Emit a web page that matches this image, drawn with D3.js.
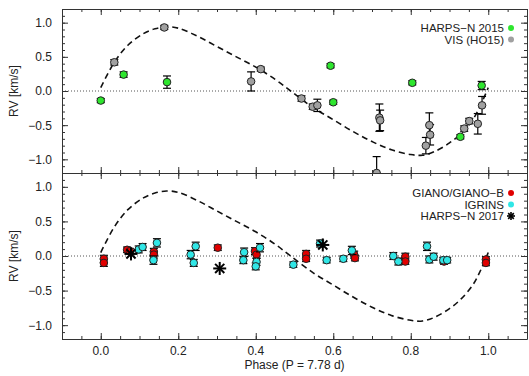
<!DOCTYPE html>
<html><head><meta charset="utf-8">
<script src="https://cdn.jsdelivr.net/npm/d3@7"></script>
<style>body{margin:0;background:#fff}svg{display:block}text{font-family:"Liberation Sans",Arial,sans-serif;fill:#222}</style>
</head><body><svg id="c" width="529" height="376"></svg>
<script>
// ---- data ----
const curve = [[0.00,0.05],[0.035,0.42],[0.07,0.67],[0.11,0.84],[0.14,0.91],[0.17,0.94],[0.20,0.92],[0.25,0.80],[0.30,0.65],[0.35,0.50],[0.40,0.35],[0.45,0.17],[0.49,0.00],[0.55,-0.25],[0.60,-0.42],[0.65,-0.59],[0.70,-0.74],[0.75,-0.86],[0.80,-0.93],[0.83,-0.94],[0.86,-0.89],[0.90,-0.76],[0.93,-0.62],[0.96,-0.42],[0.98,-0.21],[1.00,0.05]];
const harps2015 = [[0.000,-0.14,0.03],[0.059,0.24,0.04],[0.171,0.13,0.09],[0.593,0.37,0.03],[0.600,-0.165,0.03],[0.804,0.12,0.03],[0.928,-0.67,0.03],[0.983,0.08,0.06]];
const vis = [[0.035,0.42,0.04],[0.164,0.93,0.03],[0.388,0.14,0.14],[0.413,0.32,0.03],[0.518,-0.11,0.04],[0.547,-0.23,0.04],[0.559,-0.21,0.09],[0.712,-1.20,0.24],[0.719,-0.39,0.20],[0.721,-0.43,0.15],[0.839,-0.80,0.12],[0.848,-0.50,0.18],[0.850,-0.64,0.15],[0.938,-0.55,0.04],[0.951,-0.44,0.04],[0.973,-0.48,0.15],[0.984,-0.21,0.13]];
const giano = [[0.008,-0.04,0.05],[0.008,-0.10,0.05],[0.068,0.09,0.04],[0.075,0.07,0.04],[0.137,0.06,0.05],[0.137,0.02,0.05],[0.302,0.12,0.04],[0.398,0.07,0.05],[0.402,0.02,0.05],[0.530,0.03,0.05],[0.530,-0.04,0.04],[0.654,0.02,0.05],[0.656,-0.03,0.04],[0.786,-0.01,0.05],[0.786,-0.08,0.04],[0.886,-0.08,0.04],[0.994,-0.05,0.04],[0.994,-0.10,0.04]];
const igrins = [[0.098,0.095,0.05],[0.108,0.13,0.05],[0.145,0.19,0.06],[0.136,-0.06,0.06],[0.232,0.02,0.06],[0.245,0.14,0.06],[0.240,-0.10,0.05],[0.370,0.055,0.06],[0.368,-0.06,0.05],[0.411,0.12,0.06],[0.402,-0.085,0.05],[0.400,-0.15,0.05],[0.497,-0.125,0.04],[0.566,0.18,0.05],[0.583,-0.06,0.04],[0.626,-0.04,0.04],[0.648,0.08,0.06],[0.755,0.00,0.05],[0.768,-0.08,0.05],[0.842,0.14,0.06],[0.848,-0.05,0.05],[0.859,-0.01,0.05],[0.884,-0.06,0.04],[0.894,-0.06,0.04]];
const harps2017 = [[0.078,0.03],[0.307,-0.18],[0.573,0.16]];
const xTicks = [0.0,0.2,0.4,0.6,0.8,1.0];
const yTicks = [-1.0,-0.5,0.0,0.5,1.0];
const topLegend = [["HARPS\u2212N 2015","#2ee62e","circle"],["VIS (HO15)","#a0a0a0","circle"]];
const botLegend = [["GIANO/GIANO\u2212B","#e00000","circle"],["IGRINS","#30e6e6","circle"],["HARPS\u2212N 2017","#000","star"]];

// ---- layout ----
const svg = d3.select("#c");
const L=62, R=527, T=9, M=173, B=339;
const x = d3.scaleLinear().domain([-0.1,1.1]).range([L,R]);
const yTop = d3.scaleLinear().domain([-1.2,1.2]).range([M,T]);
const yBot = d3.scaleLinear().domain([-1.2,1.2]).range([B,M]);
const fmt = d => (d<0?"\u2212":"")+Math.abs(d).toFixed(1);

function panel(y, id){
  const g = svg.append("g");
  svg.append("clipPath").attr("id",id).append("rect").attr("x",L).attr("y",y.range()[1]).attr("width",R-L).attr("height",y.range()[0]-y.range()[1]);
  g.append("line").attr("x1",L).attr("x2",R).attr("y1",y(0)).attr("y2",y(0)).attr("stroke","#555").attr("stroke-width",1).attr("stroke-dasharray","1,2");
  g.append("path").datum(curve).attr("d",d3.line().x(d=>x(d[0])).y(d=>y(d[1])).curve(d3.curveCatmullRom)).attr("fill","none").attr("stroke","#111").attr("stroke-width",1.6).attr("stroke-dasharray","6,4");
  const yMinor = d3.range(-12,13).map(i=>i/10);
  const xMinor = d3.range(-2,23).map(i=>i*0.05);
  [[d3.axisLeft(y).tickValues(yTicks).tickFormat(fmt),L],[d3.axisRight(y).tickValues(yTicks).tickFormat(""),R]].forEach(([a,pos],i)=>{
    const gg = svg.append("g").attr("transform",`translate(${pos},0)`).call(a.tickSizeInner(-6).tickSizeOuter(0).tickPadding(i===0?10:0));
    gg.select(".domain").attr("stroke","#333");
    gg.selectAll(".tick line").attr("stroke","#333");
    gg.selectAll("text").attr("font-size",12).attr("fill","#222").attr("font-family","Liberation Sans, Arial");
    const mn = svg.append("g").attr("transform",`translate(${pos},0)`).call((i===0?d3.axisLeft(y):d3.axisRight(y)).tickValues(yMinor).tickFormat("").tickSizeInner(-3).tickSizeOuter(0));
    mn.select(".domain").remove(); mn.selectAll("line").attr("stroke","#333");
  });
  [[d3.axisBottom(x),y.range()[0]],[d3.axisTop(x),y.range()[1]]].forEach(([a,pos],i)=>{
    const gg = svg.append("g").attr("transform",`translate(0,${pos})`).call(a.tickValues(xTicks).tickFormat("").tickSizeInner(-6).tickSizeOuter(0));
    gg.select(".domain").attr("stroke","#333");
    gg.selectAll(".tick line").attr("stroke","#333");
    const mn = svg.append("g").attr("transform",`translate(0,${pos})`).call((i===0?d3.axisBottom(x):d3.axisTop(x)).tickValues(xMinor).tickFormat("").tickSizeInner(-3).tickSizeOuter(0));
    mn.select(".domain").remove(); mn.selectAll("line").attr("stroke","#333");
  });
  const mid = (y.range()[0]+y.range()[1])/2;
  svg.append("text").attr("transform",`translate(18,${mid}) rotate(-90)`).attr("text-anchor","middle").attr("font-size",12).text("RV [km/s]");
  return svg.append("g").attr("clip-path",`url(#${id})`);
}

function errs(g, y, data){
  const eg = g.append("g").attr("stroke","#000").attr("stroke-width",1.2);
  data.forEach(d=>{
    const y1=y(d[1]+d[2]), y2=y(d[1]-d[2]), cx=x(d[0]);
    eg.append("line").attr("x1",cx).attr("x2",cx).attr("y1",y1).attr("y2",y2);
    eg.append("line").attr("x1",cx-4).attr("x2",cx+4).attr("y1",y1).attr("y2",y1);
    eg.append("line").attr("x1",cx-4).attr("x2",cx+4).attr("y1",y2).attr("y2",y2);
  });
}
function dots(g, y, data, col){
  g.append("g").selectAll("circle").data(data).join("circle").attr("cx",d=>x(d[0])).attr("cy",d=>y(d[1])).attr("r",3.8).attr("fill",col).attr("stroke","#222").attr("stroke-width",1);
}
function star(g, cx, cy, s, w){
  const sg = g.append("g").attr("stroke","#000").attr("stroke-width",w);
  [0,45,90,135].forEach(a=>{
    const r=a*Math.PI/180;
    sg.append("line").attr("x1",cx-s*Math.cos(r)).attr("x2",cx+s*Math.cos(r)).attr("y1",cy-s*Math.sin(r)).attr("y2",cy+s*Math.sin(r));
  });
}
function legend(items, y0){
  items.forEach((it,i)=>{
    const yy = y0+i*11.5;
    svg.append("text").attr("x",504).attr("y",yy+4).attr("text-anchor","end").attr("font-size",11.5).text(it[0]);
    if(it[2]==="circle") svg.append("circle").attr("cx",511).attr("cy",yy).attr("r",3).attr("fill",it[1]);
    else star(svg,511,yy,4,1.6);
  });
}

const gt = panel(yTop,"clipTop");
errs(gt,yTop,harps2015); dots(gt,yTop,harps2015,"#2ee62e");
errs(gt,yTop,vis); dots(gt,yTop,vis,"#a0a0a0");
legend(topLegend,28);

const gb = panel(yBot,"clipBot");
errs(gb,yBot,giano); dots(gb,yBot,giano,"#e00000");
errs(gb,yBot,igrins); dots(gb,yBot,igrins,"#30e6e6");
harps2017.forEach(d=>star(gb,x(d[0]),yBot(d[1]),6.5,2));
legend(botLegend,193);

xTicks.forEach(t=>svg.append("text").attr("x",x(t)).attr("y",355).attr("text-anchor","middle").attr("font-size",12).text(t.toFixed(1)));
svg.append("text").attr("x",x(0.5)).attr("y",369).attr("text-anchor","middle").attr("font-size",12).text("Phase (P = 7.78 d)");
</script></body></html>
